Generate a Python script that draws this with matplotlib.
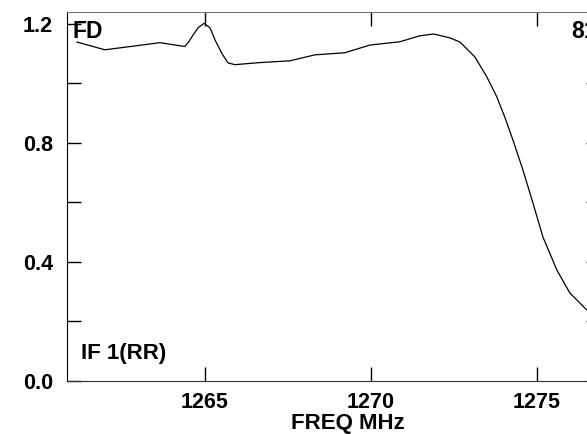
import matplotlib.pyplot as plt
import numpy as np

plt.rcParams['font.family'] = ['Liberation Sans', 'DejaVu Sans']

# bandpass amplitude
freq = [1261.14, 1261.98, 1262.89, 1263.64, 1264.39, 1264.51, 1264.64, 1264.79,
        1264.97, 1265.15, 1265.30, 1265.51, 1265.69, 1265.90, 1266.65, 1267.56,
        1268.31, 1269.21, 1269.97, 1270.87, 1271.47, 1271.89, 1272.38, 1272.68,
        1273.13, 1273.49, 1273.79, 1274.03, 1274.27, 1274.42, 1274.57, 1274.88,
        1275.18, 1275.60, 1275.99, 1276.50, 1277.00]
amp = [1.139, 1.113, 1.126, 1.137, 1.124, 1.140, 1.163, 1.187,
       1.202, 1.187, 1.146, 1.100, 1.069, 1.063, 1.070, 1.076,
       1.096, 1.103, 1.129, 1.140, 1.160, 1.166, 1.153, 1.139,
       1.089, 1.022, 0.955, 0.887, 0.812, 0.762, 0.712, 0.598,
       0.484, 0.373, 0.296, 0.239, 0.210]

xticks = [1265, 1270, 1275]
yticks = [0.0, 0.2, 0.4, 0.6, 0.8, 1.0, 1.2]
ylabels = ['0.0', '', '0.4', '', '0.8', '', '1.2']

fig = plt.figure(figsize=(5.87, 4.34), dpi=100)
ax = fig.add_axes([67 / 587, 1 - 381 / 434, 533 / 587, 369 / 434])

ax.plot(freq, amp, color='black', lw=0.9)

ax.set_xlim(1260.84, 1276.9)
ax.set_ylim(0, 1.24)
ax.set_xticks(xticks)
ax.set_xticklabels([str(t) for t in xticks])
ax.set_yticks(yticks)
ax.set_yticklabels(ylabels)
ax.tick_params(direction='in', length=10, width=1, top=True, right=True,
               labelsize=15.5)
ax.tick_params(axis='x', pad=8)
ax.tick_params(axis='y', pad=10)
for lab in ax.get_xticklabels() + ax.get_yticklabels():
    lab.set_fontweight('bold')

ax.spines['top'].set_color('#777777')
ax.spines['left'].set_color('black')
ax.spines['bottom'].set_color('#333333')

fig.text(348 / 587, 1 - 424 / 434, 'FREQ MHz', fontsize=16, fontweight='bold',
         ha='center', va='center')
fig.text(73 / 587, 1 - 31 / 434, 'FD', fontsize=16.5, fontweight='bold', va='center')
fig.text(81 / 587, 1 - 353 / 434, 'IF 1(RR)', fontsize=16, fontweight='bold', va='center')
fig.text(571 / 587, 1 - 31 / 434, '81', fontsize=16.5, fontweight='bold', va='center')

fig.savefig('out.png', dpi=100)
